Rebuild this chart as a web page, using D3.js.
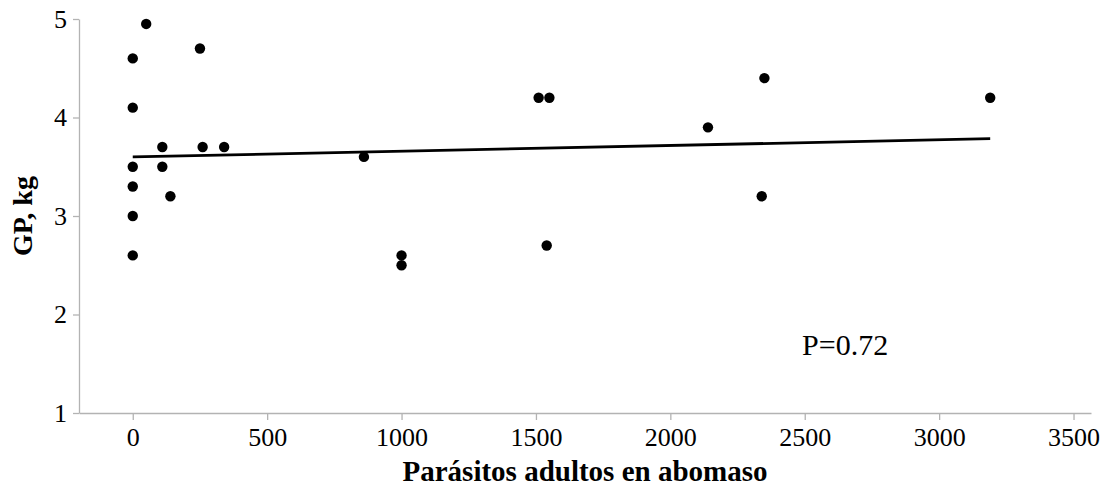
<!DOCTYPE html>
<html>
<head>
<meta charset="utf-8">
<script src="https://cdn.jsdelivr.net/npm/d3@7"></script>
<style>
  body { margin: 0; background: #fff; }
  text { font-family: "Liberation Serif", "Times New Roman", serif; }
</style>
</head>
<body>
<div id="my_dataviz"></div>
<script>
// data
const parasitos = [0, 0, 0, 0, 0, 0, 50, 110, 110, 140, 250, 260, 340, 860, 1000, 1000, 1510, 1540, 1550, 2140, 2340, 2350, 3190];
const gp = [4.6, 4.1, 3.5, 3.3, 3.0, 2.6, 4.95, 3.7, 3.5, 3.2, 4.7, 3.7, 3.7, 3.6, 2.6, 2.5, 4.2, 2.7, 4.2, 3.9, 3.2, 4.4, 4.2];
const trendX = [0, 3190];
const trendY = [3.60, 3.785];
const xTicks = [0, 500, 1000, 1500, 2000, 2500, 3000, 3500];
const yTicks = [1, 2, 3, 4, 5];

// set the dimensions and margins of the graph
const margin = {top: 19, right: 16, bottom: 79, left: 79},
    width = 1107 - margin.left - margin.right,
    height = 492 - margin.top - margin.bottom;

const svg = d3.select("#my_dataviz")
  .append("svg")
    .attr("width", width + margin.left + margin.right)
    .attr("height", height + margin.top + margin.bottom)
  .append("g")
    .attr("transform", `translate(${margin.left}, ${margin.top})`);

const x = d3.scaleLinear()
  .domain([-200, 3565])
  .range([0, width]);

const y = d3.scaleLinear()
  .domain([1, 5])
  .range([height, 0]);

const axisColor = "#b3b3b3";

// X axis
const xAxis = svg.append("g")
  .attr("transform", `translate(0, ${height})`)
  .call(d3.axisBottom(x).tickValues(xTicks).tickSize(7).tickSizeOuter(0).tickPadding(8).tickFormat(d3.format("d")));

// Y axis
const yAxis = svg.append("g")
  .call(d3.axisLeft(y).tickValues(yTicks).tickSize(6).tickSizeOuter(0).tickPadding(6).tickFormat(d3.format("d")));

[xAxis, yAxis].forEach(function(a) {
  a.attr("font-family", "Liberation Serif").attr("font-size", 26);
  a.select(".domain").attr("stroke", axisColor).attr("stroke-width", 1.3);
  a.selectAll(".tick line").attr("stroke", axisColor).attr("stroke-width", 1.3);
  a.selectAll(".tick text")
    .attr("fill", "#000")
    .attr("font-family", "Liberation Serif")
    .attr("font-size", 26);
});

// trend line
svg.append("path")
  .datum(trendX.map(function(d, i) { return [d, trendY[i]]; }))
  .attr("fill", "none")
  .attr("stroke", "#000")
  .attr("stroke-width", 2.8)
  .attr("d", d3.line()
    .x(function(d) { return x(d[0]); })
    .y(function(d) { return y(d[1]); }));

// points
svg.selectAll("circle")
  .data(parasitos)
  .join("circle")
    .attr("cx", function(d) { return x(d); })
    .attr("cy", function(d, i) { return y(gp[i]); })
    .attr("r", 5.2)
    .attr("fill", "#000");

// annotation
svg.append("text")
  .attr("x", x(2490))
  .attr("y", y(1.59))
  .style("font-size", "30px")
  .text("P=0.72");

// axis titles
svg.append("text")
  .attr("x", width / 2)
  .attr("y", height + 68)
  .attr("text-anchor", "middle")
  .style("font-size", "29px")
  .style("font-weight", "bold")
  .text("Parásitos adultos en abomaso");

svg.append("text")
  .attr("transform", `translate(${32 - margin.left}, ${197}) rotate(-90)`)
  .attr("text-anchor", "middle")
  .style("font-size", "28px")
  .style("font-weight", "bold")
  .text("GP, kg");
</script>
</body>
</html>
